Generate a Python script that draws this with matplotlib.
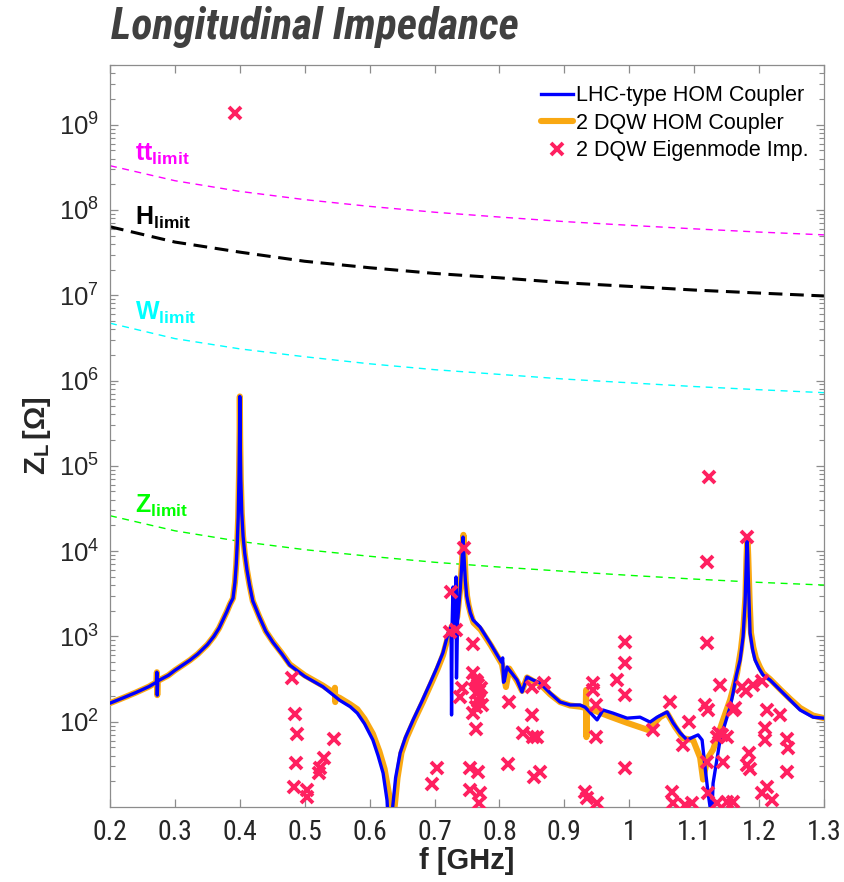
import matplotlib
matplotlib.use("Agg")
import matplotlib.pyplot as plt
from matplotlib import font_manager
from matplotlib.ticker import FixedLocator, FuncFormatter, LogLocator, NullFormatter
import numpy as np

# ---------------- data ----------------
lhc_f = [0.200, 0.220, 0.240, 0.260, 0.2715, 0.2722, 0.2728, 0.2735, 0.290, 0.300, 0.310,
         0.3233, 0.335, 0.350, 0.360, 0.368, 0.374, 0.380, 0.385, 0.3895, 0.3925, 0.3945,
         0.3960, 0.3975, 0.3988, 0.3996, 0.4000, 0.4005, 0.4015, 0.4030, 0.4050, 0.4075,
         0.4110, 0.4150, 0.4200, 0.4300, 0.4400, 0.4512, 0.4650, 0.4770, 0.5000, 0.5280,
         0.5540, 0.5700, 0.5810, 0.5920, 0.6050, 0.6130, 0.6207, 0.6268, 0.6310, 0.6355,
         0.6400, 0.6470, 0.6550, 0.6670, 0.6800, 0.6930, 0.7030, 0.7130, 0.7210, 0.7255,
         0.7262, 0.7272, 0.7285, 0.7300, 0.7320, 0.7331, 0.7338, 0.7355, 0.7395, 0.7420,
         0.7439, 0.7460, 0.7475, 0.7495, 0.7516, 0.7550, 0.7593, 0.7701, 0.7855, 0.8030,
         0.8050, 0.8062, 0.8075, 0.8117, 0.8271, 0.8348, 0.8425, 0.8518, 0.8626, 0.878,
         0.8934, 0.9088, 0.9242, 0.9319, 0.9504, 0.9596, 0.975, 0.9966, 1.0166, 1.032,
         1.0428, 1.0582, 1.0675, 1.0783, 1.0891, 1.0983, 1.106, 1.1122, 1.1168, 1.1214,
         1.1245, 1.1260, 1.1291, 1.1399, 1.1553, 1.1599, 1.1650, 1.1707, 1.1753, 1.1784,
         1.1800, 1.1810, 1.1817, 1.1825, 1.1835, 1.1846, 1.1861, 1.1900, 1.1938, 1.2000,
         1.2062, 1.2169, 1.2324, 1.2478, 1.2632, 1.2832, 1.3000]
lhc_z = [165, 190, 220, 258, 290, 380, 205, 300, 350, 400, 450,
         527, 620, 800, 1000, 1250, 1560, 1950, 2400, 2800, 4300, 7000,
         12000, 25000, 80000, 250000, 650000, 220000, 70000, 28000, 15000, 9500,
         6000, 4000, 2600, 1700, 1150, 850, 620, 460, 340, 257,
         178, 150, 126, 95, 61, 40, 25, 12, 3, 10,
         22, 43, 65, 105, 170, 282, 420, 645, 1100, 1300,
         120, 1500, 3790, 1200, 1500, 4970, 325, 1500, 3500, 7000,
         14600, 7000, 4500, 3000, 2470, 1900, 1560, 1290, 837, 500,
         560, 290, 300, 438, 308, 223, 334, 308, 284, 217,
         170, 157, 157, 148, 105, 137, 126, 110, 113, 99,
         113, 130, 97, 74, 61, 66, 70, 61, 29, 14.6,
         10, 4, 19, 61, 148, 217, 350, 528, 984, 2470,
         6000, 11000, 13000, 9000, 4500, 2470, 1100, 700, 528, 420,
         352, 308, 235, 180, 137, 113, 110]

dqw_f = [0.200, 0.220, 0.240, 0.260, 0.2715, 0.2722, 0.2728, 0.2735, 0.290, 0.300, 0.310,
         0.3233, 0.335, 0.350, 0.360, 0.368, 0.374, 0.380, 0.385, 0.3895, 0.3925, 0.3945,
         0.3960, 0.3975, 0.3988, 0.3996, 0.4000, 0.4005, 0.4015, 0.4030, 0.4050, 0.4075,
         0.4110, 0.4150, 0.4200, 0.4300, 0.4400, 0.4512, 0.4650, 0.4770, 0.5000, 0.5280,
         0.5460, 0.5465, 0.5470, 0.5475, 0.5540, 0.5700, 0.5810, 0.5920, 0.6050, 0.6150,
         0.6230, 0.6300, 0.6340, 0.6385, 0.6430, 0.6490, 0.6570, 0.6690, 0.6820, 0.6950,
         0.7050, 0.7130, 0.7210, 0.7255, 0.7300, 0.7350, 0.7395, 0.7425, 0.7445, 0.7465,
         0.7480, 0.7500, 0.7525, 0.7560, 0.7600, 0.7710, 0.7870, 0.8040, 0.8100, 0.8150,
         0.8271, 0.8348, 0.8425, 0.8518, 0.8626, 0.878, 0.8934, 0.9088, 0.9242, 0.9330,
         0.9335, 0.9340, 0.9345, 0.9442, 0.9700, 0.9966, 1.029, 1.0475, 1.0582, 1.0706,
         1.0829, 1.0983, 1.1091, 1.1137, 1.1180, 1.1214, 1.1291, 1.1445, 1.1553, 1.1610,
         1.1661, 1.1720, 1.1760, 1.1790, 1.1805, 1.1815, 1.1822, 1.1832, 1.1842, 1.1855,
         1.1875, 1.1910, 1.1950, 1.2010, 1.2062, 1.2169, 1.2324, 1.2478, 1.2632, 1.2832,
         1.3000]
dqw_z = [165, 190, 220, 258, 290, 380, 205, 300, 350, 400, 450,
         527, 620, 800, 1000, 1250, 1560, 1950, 2400, 2800, 4300, 7000,
         12000, 25000, 80000, 250000, 650000, 220000, 70000, 28000, 15000, 9500,
         6000, 4000, 2600, 1700, 1150, 860, 630, 470, 350, 265,
         215, 250, 170, 200, 190, 160, 140, 108, 72, 45,
         28, 14, 3, 10, 22, 43, 65, 105, 170, 282,
         420, 600, 1000, 1250, 1400, 1700, 3600, 8000, 15500, 8000,
         4500, 3000, 2300, 1800, 1450, 1200, 780, 470, 255, 420,
         300, 230, 330, 300, 275, 210, 170, 155, 150, 145,
         235, 66, 140, 137, 115, 97, 80, 113, 126, 87,
         64, 61, 38, 21, 30, 38, 47, 105, 180, 260,
         372, 700, 1300, 3000, 8000, 12500, 14000, 9000, 5000, 2500,
         1100, 750, 560, 440, 370, 315, 240, 185, 145, 118,
         110]

eig_f = [0.3926, 0.480, 0.485, 0.4886, 0.4866, 0.4835, 0.504, 0.504, 0.5236, 0.5216, 0.5297,
         0.5456, 0.7455, 0.725, 0.7239, 0.7331, 0.7589, 0.7589, 0.7419, 0.7393, 0.7625,
         0.7670, 0.7716, 0.7640, 0.7701, 0.7670, 0.7732, 0.7640, 0.7690, 0.7655, 0.7589,
         0.764, 0.7043, 0.6966, 0.7547, 0.7675, 0.7547, 0.7701, 0.7686, 0.8153, 0.8138,
         0.8497, 0.8687, 0.8497, 0.8368, 0.8522, 0.8574, 0.8626, 0.8533, 0.9447, 0.9447,
         0.9488, 0.9488, 0.9319, 0.9345, 0.9499, 0.9807, 0.9935, 0.9935, 0.9935, 0.9935,
         1.0628, 1.0926, 1.0834, 1.0372, 1.1168, 1.1219, 1.1399, 1.1193, 1.1424, 1.1347,
         1.1501, 1.1439, 1.1604, 1.1219, 1.0653, 1.068, 1.0860, 1.0963, 1.1347, 1.1501,
         1.1604, 1.1235, 1.1193, 1.1193, 1.181, 1.1733, 1.18, 1.1903, 1.204, 1.2117,
         1.2324, 1.2092, 1.2092, 1.2427, 1.2452, 1.2427, 1.1851, 1.181, 1.1861, 1.1387,
         1.163, 1.204, 1.2117, 1.2196]
eig_z = [1.37e9, 323, 122, 71, 33, 17.3, 15.8, 13.2, 28.5, 24.8, 38,
         62, 10800, 3340, 1135, 1190, 815, 375, 247, 196, 308,
         270, 248, 217, 195, 174, 157, 148, 230, 290, 128,
         82, 28.5, 18.5, 28.5, 26, 16, 14.5, 11, 171, 32,
         257, 282, 120, 74, 67, 67, 26, 22.6, 282, 235,
         157, 67, 15, 12.6, 11, 308, 866, 484, 205, 28.5,
         171, 100, 53, 80, 157, 137, 269, 34, 70, 67,
         67, 34, 137, 14.5, 15, 11, 10.5, 11.2, 11, 11.6,
         11.6, 74500, 7500, 843, 14500, 257, 231, 269, 303, 137,
         120, 84, 61, 62, 49, 26, 43, 31, 28, 73,
         144, 14.7, 17.3, 12]

lim_f = [0.2, 0.3, 0.4, 0.5, 0.6, 0.7, 0.8, 0.9, 1.0, 1.1, 1.2, 1.3]
tt_lim = [3.3e8, 2.2e8, 1.65e8, 1.32e8, 1.1e8, 9.4e7, 8.25e7, 7.3e7, 6.6e7, 6.0e7, 5.5e7, 5.1e7]
h_lim = [6.35e7, 4.2e7, 3.2e7, 2.5e7, 2.1e7, 1.8e7, 1.6e7, 1.4e7, 1.27e7, 1.15e7, 1.06e7, 9.8e6]
w_lim = [4.7e6, 3.1e6, 2.35e6, 1.9e6, 1.57e6, 1.34e6, 1.18e6, 1.04e6, 9.4e5, 8.5e5, 7.8e5, 7.2e5]
z_lim = [2.6e4, 1.73e4, 1.3e4, 1.04e4, 8.7e3, 7.4e3, 6.5e3, 5.8e3, 5.2e3, 4.7e3, 4.3e3, 4.0e3]

x_ticks = [0.2, 0.3, 0.4, 0.5, 0.6, 0.7, 0.8, 0.9, 1.0, 1.1, 1.2, 1.3]
x_tick_labels = ["0.2", "0.3", "0.4", "0.5", "0.6", "0.7", "0.8", "0.9", "1", "1.1", "1.2", "1.3"]
y_decades = [2, 3, 4, 5, 6, 7, 8, 9]

# ---------------- fonts ----------------
names = {f.name for f in font_manager.fontManager.ttflist}
narrow = None
for cand in ["Liberation Sans Narrow", "Arial Narrow", "Roboto Condensed", "Open Sans Condensed"]:
    if cand in names:
        narrow = cand
        break
plt.rcParams["font.family"] = ["Liberation Sans", "DejaVu Sans"]
plt.rcParams["mathtext.fontset"] = "custom"
plt.rcParams["mathtext.rm"] = "Liberation Sans"
plt.rcParams["mathtext.bf"] = "Liberation Sans:bold"
plt.rcParams["mathtext.it"] = "Liberation Sans:italic"

W, H = 845, 882
fig = plt.figure(figsize=(W / 100, H / 100), dpi=100)
ax = fig.add_axes([110 / W, 75 / H, 714 / W, 742 / H])

spine_col = "#8c8c8c"
txt_col = "#262626"

ax.plot(lim_f, tt_lim, color="#FF00FF", lw=1.0, ls=(0, (5, 4)), zorder=2)
ax.plot(lim_f, h_lim, color="black", lw=2.2, ls=(0, (4.5, 2.5)), zorder=2)
ax.plot(lim_f, w_lim, color="#00FFFF", lw=1.0, ls=(0, (5, 4)), zorder=2)
ax.plot(lim_f, z_lim, color="#00FF00", lw=1.0, ls=(0, (5, 4)), zorder=2)

l2, = ax.plot(dqw_f, dqw_z, color="#F9A812", lw=4.4, solid_capstyle="round",
              solid_joinstyle="round", zorder=3, label="2 DQW HOM Coupler")
l1, = ax.plot(lhc_f, lhc_z, color="#0000FF", lw=2.4, solid_joinstyle="round",
              zorder=4, label="LHC-type HOM Coupler")
l3, = ax.plot(eig_f, eig_z, ls="none", marker="x", ms=8.5, mew=2.8, color="#FF2060",
              zorder=5, label="2 DQW Eigenmode Imp.")

ax.set_yscale("log")
ax.set_xlim(0.2, 1.3)
ax.set_ylim(10, 5e9)

ax.xaxis.set_major_locator(FixedLocator(x_ticks))
ax.set_xticklabels(x_tick_labels)
ax.yaxis.set_major_locator(FixedLocator([10.0 ** k for k in y_decades]))
ax.yaxis.set_major_formatter(FuncFormatter(lambda v, p: r"$\mathregular{10^{%d}}$" % round(np.log10(v))))
ax.yaxis.set_minor_locator(LogLocator(base=10, subs=np.arange(2, 10), numticks=30))
ax.yaxis.set_minor_formatter(NullFormatter())

ax.tick_params(axis="both", which="both", direction="in", top=True, right=True,
               color=spine_col, labelcolor=txt_col)
ax.tick_params(axis="both", which="major", length=6, width=0.9)
ax.tick_params(axis="y", which="minor", length=3.5, width=0.8)
ax.tick_params(axis="y", which="major", labelsize=18.5, pad=8)
ax.tick_params(axis="x", which="major", labelsize=18.5, pad=9)
if narrow:
    for lab in ax.get_xticklabels():
        lab.set_family(narrow)
        lab.set_fontsize(20)
for s in ax.spines.values():
    s.set_color(spine_col)
    s.set_linewidth(0.9)

ax.set_xlabel("f [GHz]", fontsize=21, fontweight="bold", color=txt_col)
ax.xaxis.set_label_coords(0.5, -0.054)
ax.set_ylabel(r"$\mathbf{Z_L\,[\Omega]}$", fontsize=21, color=txt_col, labelpad=4)

# limit labels
lab_kw = dict(fontsize=18, ha="left", va="center", zorder=6)
ax.text(0.238, 4.5e8, r"$\mathbf{tt_{limit}}$", color="#FF00FF", **lab_kw)
ax.text(0.238, 8.0e7, r"$\mathbf{H_{limit}}$", color="black", **lab_kw)
ax.text(0.238, 6.2e6, r"$\mathbf{W_{limit}}$", color="#00FFFF", **lab_kw)
ax.text(0.238, 3.4e4, r"$\mathbf{Z_{limit}}$", color="#00FF00", **lab_kw)

leg = ax.legend(handles=[l1, l2, l3], loc="upper left", bbox_to_anchor=(0.6036, 0.9726),
                frameon=False, fontsize=15.5, handlelength=1.5, handletextpad=0.15,
                labelspacing=0.3, borderpad=0, borderaxespad=0)

title_kw = dict(fontsize=31.5 if narrow else 25.5, fontweight="bold", fontstyle="italic",
                color="#404040", ha="left", va="center")
if narrow:
    title_kw["family"] = narrow
fig.text(111 / W, 1 - 27 / H, "Longitudinal Impedance", **title_kw)

fig.savefig("out.png", dpi=100)
